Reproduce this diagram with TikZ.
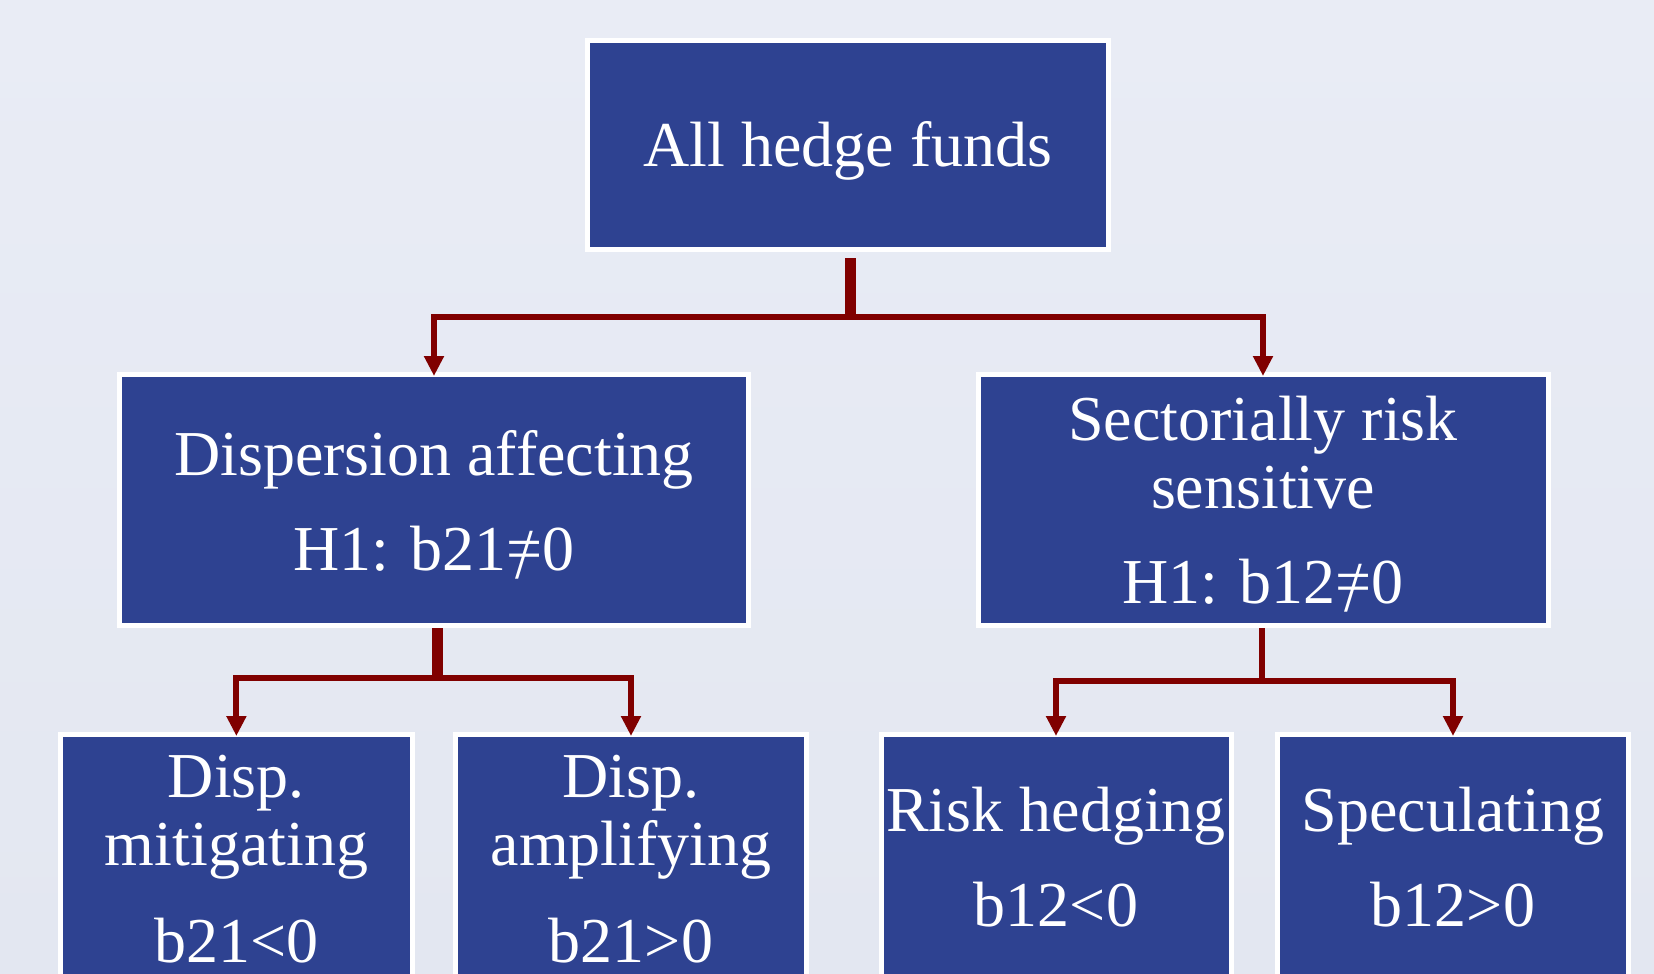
\documentclass[tikz,border=0pt]{standalone}
\usepackage{fontspec}
\usepackage{graphicx}
\setmainfont{Liberation Serif}
\usetikzlibrary{arrows.meta}
\definecolor{boxblue}{RGB}{46,66,145}
\definecolor{linkred}{RGB}{128,0,0}
\definecolor{bgtop}{RGB}{233,236,245}
\definecolor{bgbot}{RGB}{227,231,241}
\newcommand{\myneq}{\ooalign{=\cr\hidewidth\raisebox{-0.14em}{\scalebox{1}[1.12]{/}}\hidewidth\cr}}
\begin{document}
\begin{tikzpicture}[x=1pt,y=-1pt,
  box/.style={draw=white, line width=5pt, fill=boxblue, rectangle, inner sep=0pt},
  lbl/.style={anchor=base, text=white, inner sep=0pt, font=\fontsize{64}{70}\selectfont},
  branch/.style={draw=linkred, line width=6pt, line join=miter, -{Triangle[width=19pt,length=20pt]}, shorten >=-4pt},
  stem/.style={draw=linkred, line cap=butt}]
\useasboundingbox (0,0) rectangle (1654,974);
\shade[top color=bgtop, bottom color=bgbot] (0,0) rectangle (1654,974);
\clip (0,0) rectangle (1654,974);

% boxes
\node[box, minimum width=521pt, minimum height=209pt] (top) at (848,145) {};
\node[box, minimum width=629pt, minimum height=251pt] (dispaff) at (434,500) {};
\node[box, minimum width=570pt, minimum height=251pt] (sectrisk) at (1263,500) {};
\node[box, minimum width=352pt, minimum height=300pt] (mitig) at (236.4,884.5) {};
\node[box, minimum width=351pt, minimum height=300pt] (ampl) at (631,884.5) {};
\node[box, minimum width=350pt, minimum height=300pt] (hedge) at (1056,884.5) {};
\node[box, minimum width=351pt, minimum height=300pt] (spec) at (1453,884.5) {};

% texts
\node[lbl] (tA) at (848,166) {All hedge funds};
\node[lbl] (tB1) at (434,475) {Dispersion affecting};
\node[lbl] (tB2) at (434,570) {H1: b21\myneq0};
\node[lbl] (tC1) at (1263,440) {Sectorially risk};
\node[lbl] (tC2) at (1263,508) {sensitive};
\node[lbl] (tC3) at (1263,603) {H1: b12\myneq0};
\node[lbl] (tD1) at (236.4,797) {Disp.};
\node[lbl] (tD2) at (236.4,865) {mitigating};
\node[lbl] (tD3) at (236.4,962) {b21<0};
\node[lbl] (tE1) at (631,797) {Disp.};
\node[lbl] (tE2) at (631,865) {amplifying};
\node[lbl] (tE3) at (631,962) {b21>0};
\node[lbl] (tF1) at (1056,831) {Risk hedging};
\node[lbl] (tF2) at (1056,926.5) {b12<0};
\node[lbl] (tG1) at (1453,831) {Speculating};
\node[lbl] (tG2) at (1453,926.5) {b12>0};

% connectors
\coordinate (jtop) at (850.5,317);
\draw[stem, line width=10.5pt, shorten <=6pt] (top.south -| jtop) -- (jtop);
\draw[branch] (jtop) -| (dispaff.north);
\draw[branch] (jtop) -| (sectrisk.north);

\coordinate (jl) at (437,677.7);
\draw[stem, line width=11pt] (dispaff.south -| jl) -- (jl);
\draw[branch] (jl) -| (mitig.north);
\draw[branch] (jl) -| (ampl.north);

\coordinate (jr) at (1262,680.5);
\draw[stem, line width=5.7pt] (sectrisk.south -| jr) -- (jr);
\draw[branch] (jr) -| (hedge.north);
\draw[branch] (jr) -| (spec.north);
\end{tikzpicture}
\end{document}
